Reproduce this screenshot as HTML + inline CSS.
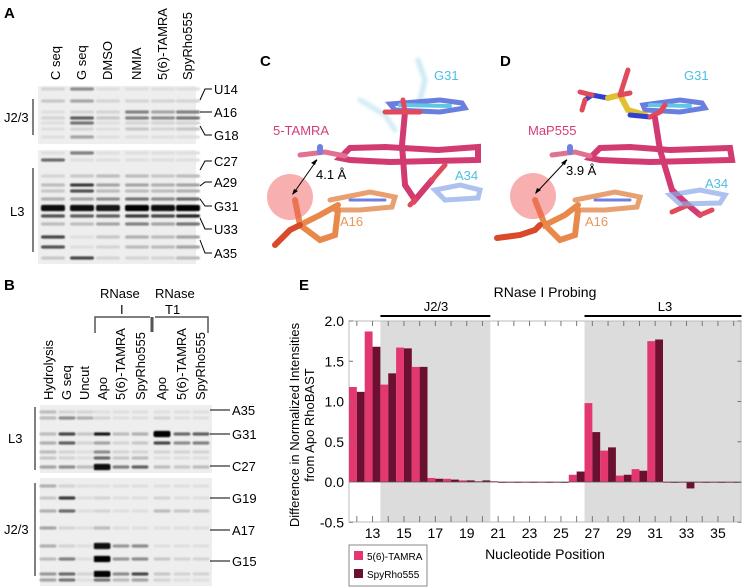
<!DOCTYPE html>
<html><head><meta charset="utf-8"><style>
html,body{margin:0;padding:0;background:#fff}
svg{display:block;font-family:"Liberation Sans",Arial,sans-serif}
</style></head><body>
<svg id="fig" width="742" height="587" viewBox="0 0 742 587">
<defs>
<filter id="bl"><feGaussianBlur stdDeviation="0.8"/></filter>
<filter id="bl2"><feGaussianBlur stdDeviation="1.5"/></filter>
</defs>
<!-- Panel A -->
<g>
<text x="4" y="18" font-size="15" font-weight="bold">A</text>
<g font-size="13">
<text transform="translate(60,80) rotate(-90)">C seq</text>
<text transform="translate(86,80) rotate(-90)">G seq</text>
<text transform="translate(112,80) rotate(-90)">DMSO</text>
<text transform="translate(141,80) rotate(-90)">NMIA</text>
<text transform="translate(167,80) rotate(-90)">5(6)-TAMRA</text>
<text transform="translate(192,80) rotate(-90)">SpyRho555</text>
</g>
<rect x="38" y="86" width="158" height="58" fill="#eeeeee"/>
<rect x="38" y="150" width="158" height="114" fill="#eeeeee"/>
<g id="gelA" filter="url(#bl)"></g>
<g font-size="13">
<line x1="33" y1="99" x2="33" y2="135" stroke="#000"/><text x="4" y="122">J2/3</text>
<line x1="33" y1="168" x2="33" y2="252" stroke="#000"/><text x="10" y="216">L3</text>
<g stroke="#000" fill="none">
<polyline points="200,100 205,89 212,89"/><line x1="200" y1="112" x2="212" y2="112"/><polyline points="200,126 205,135 212,135"/>
<polyline points="200,170 205,161 212,161"/><polyline points="200,186 205,182 212,182"/><polyline points="200,199 205,206 212,206"/>
<polyline points="200,218 205,229 212,229"/><polyline points="200,240 205,253 212,253"/>
</g>
<text x="214" y="94">U14</text><text x="214" y="117">A16</text><text x="214" y="140">G18</text>
<text x="214" y="166">C27</text><text x="214" y="187">A29</text><text x="214" y="211">G31</text>
<text x="214" y="234">U33</text><text x="214" y="258">A35</text>
</g>
</g>
<!-- Panel B -->
<g>
<text x="4" y="290" font-size="15" font-weight="bold">B</text>
<g font-size="13">
<text x="100" y="298">RNase</text><text x="155" y="298">RNase</text>
<text x="120" y="314">I</text><text x="165" y="314">T1</text>
<g stroke="#555" fill="none" stroke-width="1.5"><polyline points="95,333 95,317 150,317"/><polyline points="155,317 208,317 208,333"/><line x1="152" y1="317" x2="152" y2="332" stroke-width="3"/></g>
<text transform="translate(53,400) rotate(-90)">Hydrolysis</text>
<text transform="translate(71,400) rotate(-90)">G seq</text>
<text transform="translate(89,400) rotate(-90)">Uncut</text>
<text transform="translate(107,400) rotate(-90)">Apo</text>
<text transform="translate(125,400) rotate(-90)">5(6)-TAMRA</text>
<text transform="translate(145,400) rotate(-90)">SpyRho555</text>
<text transform="translate(166,400) rotate(-90)">Apo</text>
<text transform="translate(186,400) rotate(-90)">5(6)-TAMRA</text>
<text transform="translate(205,400) rotate(-90)">SpyRho555</text>
</g>
<rect x="40" y="405" width="172" height="68" fill="#eeeeee"/>
<rect x="40" y="478" width="172" height="108" fill="#eeeeee"/>
<g id="gelB" filter="url(#bl)"></g>
<g font-size="13">
<line x1="35" y1="407" x2="35" y2="470" stroke="#000"/><text x="8" y="443">L3</text>
<line x1="35" y1="483" x2="35" y2="576" stroke="#000"/><text x="4" y="534">J2/3</text>
<g stroke="#000"><line x1="210" y1="410" x2="230" y2="410"/><line x1="210" y1="434" x2="230" y2="434"/><line x1="210" y1="466" x2="230" y2="466"/><line x1="210" y1="498" x2="230" y2="498"/><line x1="210" y1="530" x2="230" y2="530"/><line x1="210" y1="561" x2="230" y2="561"/></g>
<text x="232" y="415">A35</text><text x="232" y="439">G31</text><text x="232" y="471">C27</text><text x="232" y="503">G19</text><text x="232" y="535">A17</text><text x="232" y="566">G15</text>
</g>
</g>
<!-- Panels C & D (structures approximation) -->
<g id="structC">
<text x="260" y="66" font-size="15" font-weight="bold">C</text>
<g filter="url(#bl2)" opacity="0.45" stroke-linecap="round" fill="none">
<path d="M418 60 L425 80 L420 100" stroke="#8ecfe0" stroke-width="5"/>
<path d="M360 100 L385 115 L395 130" stroke="#9ad3e6" stroke-width="5"/>
</g>
<g stroke-linecap="round" fill="none">
<path d="M390 104 L440 100 L462 103 L465 108 L440 112 L395 110Z" stroke="#6a7ee0" stroke-width="5"/>
<path d="M400 105 L450 106" stroke="#5fc6e6" stroke-width="4"/>
<path d="M340 158 L350 148 L385 147 L438 150 L478 147 L478 160 L390 162 L350 160Z" stroke="#d23a72" stroke-width="6"/>
<path d="M300 155 L325 152 L345 156" stroke="#e2708f" stroke-width="5"/>
<path d="M320 152 L320 147" stroke="#7080e0" stroke-width="6"/>
<path d="M405 112 L402 145 L405 185 L415 200 L432 180" stroke="#d23a72" stroke-width="6"/>
<path d="M385 112 L405 112 L420 112 M405 112 L403 100" stroke="#e04a5a" stroke-width="5"/>
<path d="M432 180 L445 165 M415 200 L410 205" stroke="#e04a5a" stroke-width="5"/>
<path d="M435 190 L460 185 L480 190 L478 198 L445 200Z" stroke="#8aa8e8" stroke-width="5" opacity="0.7"/>
<path d="M330 200 L370 192 L395 197 L392 207 L360 210 L335 210" stroke="#e8a070" stroke-width="5"/>
<path d="M350 200 L385 200" stroke="#7080e0" stroke-width="3"/>
<path d="M295 200 L300 225 L320 215 L338 205 M300 225 L320 240 L335 235 L338 210" stroke="#e8884a" stroke-width="6"/>
<path d="M275 245 L290 230 L300 225" stroke="#d84a2a" stroke-width="6"/>
</g>
<circle cx="290" cy="197" r="23" fill="#f06060" opacity="0.5"/>
<line x1="293" y1="194" x2="317" y2="160" stroke="#000" stroke-width="1"/>
<polygon points="317,159 311,163 315,165" fill="#000"/><polygon points="292,195 298,191 294,189" fill="#000"/>
<text x="273" y="135" font-size="13" fill="#d63c78">5-TAMRA</text>
<text x="316" y="179" font-size="13">4.1 Å</text>
<text x="434" y="80" font-size="13" fill="#4dbfe0">G31</text>
<text x="455" y="180" font-size="13" fill="#4dbfe0">A34</text>
<text x="340" y="226" font-size="13" fill="#e8965a">A16</text>
</g>
<g id="structD">
<text x="500" y="66" font-size="15" font-weight="bold">D</text>
<g stroke-linecap="round" fill="none">
<path d="M643 105 L680 100 L702 103 L705 108 L680 112 L645 110Z" stroke="#6a7ee0" stroke-width="5"/>
<path d="M650 105 L690 106" stroke="#5fc6e6" stroke-width="4"/>
<path d="M585 100 L592 95 L608 98" stroke="#3040d0" stroke-width="5"/>
<path d="M585 100 L582 110 M592 95 L580 92" stroke="#e04a5a" stroke-width="5"/>
<path d="M608 98 L620 95 L628 110 L645 115" stroke="#e0c030" stroke-width="6"/>
<path d="M620 95 L628 70 M620 95 L630 93" stroke="#e04a5a" stroke-width="5"/>
<path d="M630 115 L650 117" stroke="#3040d0" stroke-width="5"/>
<path d="M650 117 L660 112 L665 105" stroke="#e04a5a" stroke-width="5"/>
<path d="M590 158 L600 148 L630 147 L670 150 L730 148 L732 160 L650 162 L600 160Z" stroke="#d23a72" stroke-width="6"/>
<path d="M552 155 L575 152 L590 156" stroke="#e2708f" stroke-width="5"/>
<path d="M570 152 L570 147" stroke="#7080e0" stroke-width="6"/>
<path d="M655 118 L660 150 L672 190 L688 205 L700 215" stroke="#d23a72" stroke-width="6"/>
<path d="M688 205 L672 212 M700 215 L712 210" stroke="#e04a5a" stroke-width="5"/>
<path d="M670 195 L700 190 L725 195 L720 203 L680 204Z" stroke="#8aa8e8" stroke-width="5" opacity="0.7"/>
<path d="M575 200 L615 192 L640 197 L637 207 L605 210 L580 210" stroke="#e8a070" stroke-width="5"/>
<path d="M595 200 L630 200" stroke="#7080e0" stroke-width="3"/>
<path d="M535 200 L545 225 L565 215 L578 205 M545 225 L560 240 L575 235 L578 210" stroke="#e8884a" stroke-width="6"/>
<path d="M497 238 L520 235 L535 230 L540 225" stroke="#d84a2a" stroke-width="6"/>
</g>
<circle cx="533" cy="196" r="23" fill="#f06060" opacity="0.5"/>
<line x1="536" y1="193" x2="567" y2="160" stroke="#000" stroke-width="1"/>
<polygon points="567,159 561,163 565,165" fill="#000"/><polygon points="535,194 541,190 537,188" fill="#000"/>
<text x="528" y="135" font-size="13" fill="#d63c78">MaP555</text>
<text x="566" y="175" font-size="13">3.9 Å</text>
<text x="684" y="80" font-size="13" fill="#4dbfe0">G31</text>
<text x="705" y="188" font-size="13" fill="#4dbfe0">A34</text>
<text x="585" y="226" font-size="13" fill="#e8965a">A16</text>
</g>
<!-- Panel E -->
<g id="chartE">
<text x="299" y="290" font-size="15" font-weight="bold">E</text>
<text x="545" y="297" font-size="14" text-anchor="middle">RNase I Probing</text>
<text x="436" y="311" font-size="13" text-anchor="middle">J2/3</text>
<text x="665" y="311" font-size="13" text-anchor="middle">L3</text>
<text transform="translate(299,425) rotate(-90)" font-size="13" text-anchor="middle">Difference in Normalized Intensities</text>
<text transform="translate(314,425) rotate(-90)" font-size="13" text-anchor="middle">from Apo RhoBAST</text>
<text x="545" y="559" font-size="14" text-anchor="middle">Nucleotide Position</text>
<g id="plot"></g>
<g>
<rect x="349" y="545" width="78" height="41" fill="#fff" stroke="#888"/>
<rect x="354" y="551" width="9" height="9" fill="#e3386f"/>
<text x="367" y="560" font-size="10">5(6)-TAMRA</text>
<rect x="354" y="569" width="9" height="9" fill="#6b1030"/>
<text x="367" y="578" font-size="10">SpyRho555</text>
</g>
</g>
</svg>
<script>
const positions = [12,13,14,15,16,17,18,19,20,21,22,23,24,25,26,27,28,29,30,31,32,33,34,35,36];
const tamraValues = [1.18,1.87,1.21,1.67,1.43,0.05,0.04,0.02,0.01,0.01,0.00,0.00,0.00,0.00,0.09,0.98,0.39,0.08,0.16,1.75,0.00,0.00,0.00,-0.01,-0.01];
const spyValues = [1.12,1.68,1.35,1.66,1.43,0.04,0.03,0.02,0.02,0.00,0.00,0.00,0.00,-0.01,0.13,0.62,0.43,0.09,0.14,1.77,-0.01,-0.08,0.00,0.00,0.00];
const yTicks = [-0.5,0.0,0.5,1.0,1.5,2.0];
const yTickLabels = ["-0.5","0.0","0.5","1.0","1.5","2.0"];
const xTickLabels = [13,15,17,19,21,23,25,27,29,31,33,35];
const regionJ23 = [14,20];
const regionL3 = [27,36];

const NS='http://www.w3.org/2000/svg';
const L=349, R=741.5, T=321, B=522;
const step=(R-L)/positions.length;
function xC(p){return L+(p-positions[0]+0.5)*step;}
function yS(v){return 482 - v*80.5;}
function mk(tag,attrs,parent){const e=document.createElementNS(NS,tag);for(const k in attrs)e.setAttribute(k,attrs[k]);parent.appendChild(e);return e;}
const plot=document.getElementById('plot');
[regionJ23,regionL3].forEach((r,i)=>{
  const x1=xC(r[0])-step/2, x2=Math.min(R,xC(r[1])+step/2);
  const s=mk('rect',{x:x1,y:T,width:x2-x1,height:B-T,fill:'#dcdcdc'},plot);
  
  
  const ln=mk('line',{x1:x1,x2:x2,y1:316,y2:316,stroke:'#000','stroke-width':2},plot);
  
  
});
const fr=mk('rect',{x:L,y:T,width:R-L-0.5,height:B-T,fill:'none',stroke:'#bbb'},plot);


const bw=step/2;
positions.forEach((p,i)=>{
  [[tamraValues[i],'#e3386f',-bw,'bar-tamra-'],[spyValues[i],'#6b1030',0,'bar-spy-']].forEach(d=>{
    const v=d[0]; const y0=yS(0), y1=yS(v);
    const b=mk('rect',{x:xC(p)+d[2],y:Math.min(y0,y1),width:bw,height:Math.max(0.8,Math.abs(y1-y0)),fill:d[1]},plot);
    
    
  });
});
mk('line',{x1:L,x2:R,y1:yS(0),y2:yS(0),stroke:'#555','stroke-width':0.8},plot);
yTicks.forEach((v,i)=>{
  const y=yS(v);
  mk('line',{x1:L,x2:L+4,y1:y,y2:y,stroke:'#777'},plot);
  mk('line',{x1:R-4,x2:R,y1:y,y2:y,stroke:'#777'},plot);
  const t=mk('text',{x:L-5,y:y+5,'font-size':14,'text-anchor':'end'},plot);
  t.textContent=yTickLabels[i];
  
  
});
positions.forEach(p=>{
  const x=xC(p);
  mk('line',{x1:x,x2:x,y1:B,y2:B-6,stroke:'#777'},plot);
  mk('line',{x1:x,x2:x,y1:T,y2:T+5,stroke:'#777'},plot);
});
xTickLabels.forEach(p=>{
  const t=mk('text',{x:xC(p),y:538,'font-size':14,'text-anchor':'middle'},plot);
  t.textContent=p;
  
  
});

function gel(id,lanes,w,bands){
  const g=document.getElementById(id);
  bands.forEach(b=>{
    const [y,ints]=b;
    ints.forEach((a,li)=>{
      if(a<=0)return;
      const c=Math.round(235-a*235);
      mk('rect',{x:lanes[li]-w/2,y:y-1.6-(a>0.9?1.5:0),width:w,height:3.2+(a>0.9?3:0),rx:2,fill:`rgb(${c},${c},${c})`},g);
    });
  });
}
const lanesA=[53,82,108,137,163,188];
gel('gelA',lanesA,24,[
 [89,[0.1,0.4,0.05,0.05,0.05,0.05]],[101,[0.15,0.3,0.1,0.1,0.1,0.1]],
 [112,[0.05,0.1,0.1,0.45,0.3,0.45]],[118,[0.1,0.6,0.15,0.45,0.4,0.5]],[123,[0.05,0.5,0.05,0.1,0.1,0.1]],
 [129,[0.05,0.1,0.05,0.15,0.1,0.15]],[137,[0.05,0.3,0.05,0.05,0.05,0.05]],
 [153,[0.05,0.45,0.05,0.05,0.05,0.05]],[160,[0.55,0.05,0.05,0.05,0.05,0.05]],
 [176,[0.1,0.15,0.2,0.2,0.15,0.2]],[185,[0.2,0.75,0.3,0.3,0.25,0.3]],[191,[0.15,0.65,0.2,0.2,0.2,0.25]],
 [199,[0.25,0.3,0.4,0.5,0.4,0.55]],[208,[0.95,0.95,0.92,0.98,0.95,1]],[216,[0.65,0.6,0.6,0.75,0.7,0.85]],
 [224,[0.2,0.2,0.3,0.45,0.3,0.5]],[237,[0.7,0.05,0.15,0.25,0.2,0.3]],[247,[0.65,0.05,0.1,0.2,0.2,0.3]],[258,[0.15,0.7,0.1,0.1,0.1,0.2]]
]);
const lanesB=[48,67,85,102,121,140,162,182,201];
gel('gelB',lanesB,17,[
 [412,[0.2,0.1,0.1,0.05,0.05,0.05,0.05,0.05,0.05]],[418,[0.2,0.4,0.25,0.1,0.05,0.05,0.1,0.05,0.05]],
 [434,[0.2,0.7,0.15,0.9,0.2,0.25,1,0.55,0.6]],[443,[0.25,0.6,0.1,0.3,0.1,0.15,0.7,0.4,0.45]],
 [452,[0.2,0.1,0.05,0.4,0.1,0.1,0.1,0.1,0.1]],[458,[0.15,0.1,0.05,0.55,0.15,0.2,0.05,0.05,0.05]],
 [467,[0.3,0.4,0.2,0.95,0.45,0.6,0.2,0.15,0.2]],
 [486,[0.25,0.1,0.05,0.05,0.05,0.05,0.05,0.05,0.05]],[498,[0.15,0.75,0.05,0.1,0.05,0.05,0.1,0.05,0.05]],
 [511,[0.25,0.55,0.05,0.1,0.05,0.05,0.2,0.15,0.15]],[528,[0.3,0.1,0.05,0.2,0.05,0.05,0.05,0.05,0.05]],
 [546,[0.25,0.1,0.05,0.95,0.35,0.4,0.05,0.05,0.05]],[559,[0.2,0.45,0.05,1,0.35,0.4,0.15,0.1,0.1]],
 [574,[0.35,0.55,0.1,1,0.4,0.7,0.15,0.1,0.1]],[580,[0.3,0.5,0.05,0.5,0.2,0.3,0.1,0.05,0.05]]
]);
</script>
</body></html>
